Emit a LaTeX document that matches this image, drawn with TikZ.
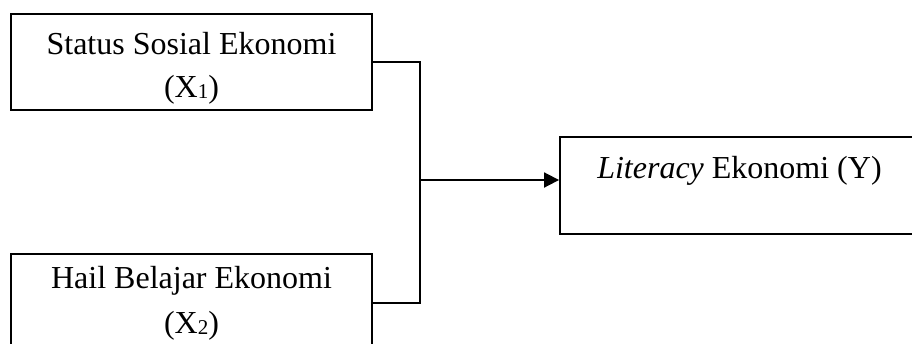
\documentclass[tikz,border=0pt]{standalone}
\usepackage{fontspec}
\setmainfont{Liberation Serif}
\usetikzlibrary{arrows.meta}
\newcommand{\sbs}[1]{\raisebox{-0.06em}{\fontsize{15.8}{15.8}\selectfont #1}}
\begin{document}
\begin{tikzpicture}[x=0.75pt,y=-0.75pt,
  box/.style={draw=black,line width=1.4pt,rectangle,inner sep=0pt},
  lbl/.style={inner sep=0pt,anchor=base,font=\fontsize{24}{28}\selectfont},
  wire/.style={draw=black,line width=1.4pt}]
\useasboundingbox (0,0) rectangle (912,343);
\node[box,minimum width=361*0.75pt,minimum height=96*0.75pt] (b1) at (191.5,62) {};
\node[box,minimum width=361*0.75pt,minimum height=98*0.75pt] (b2) at (191.5,303) {};
\node[box,minimum width=380*0.75pt,minimum height=97*0.75pt] (yb) at (750,185.5) {};
\node[lbl] (t1a) at (191.5,54.5) {Status Sosial Ekonomi};
\node[lbl] (t1b) at (191.5,97) {(X\sbs{1})};
\node[lbl] (t2a) at (191.5,288.5) {Hail Belajar Ekonomi};
\node[lbl] (t2b) at (191.5,333) {(X\sbs{2})};
\node[lbl,anchor=base west] (ty) at (597,178) {\textit{Literacy} Ekonomi (Y)};
\coordinate (j) at (420,180);
\draw[wire] (b1.east) -| (j) |- (b2.east);
\draw[wire,-{Triangle[length=15*0.75pt,width=15*0.75pt]}] (j) -- (yb.west |- j);
\end{tikzpicture}
\end{document}
